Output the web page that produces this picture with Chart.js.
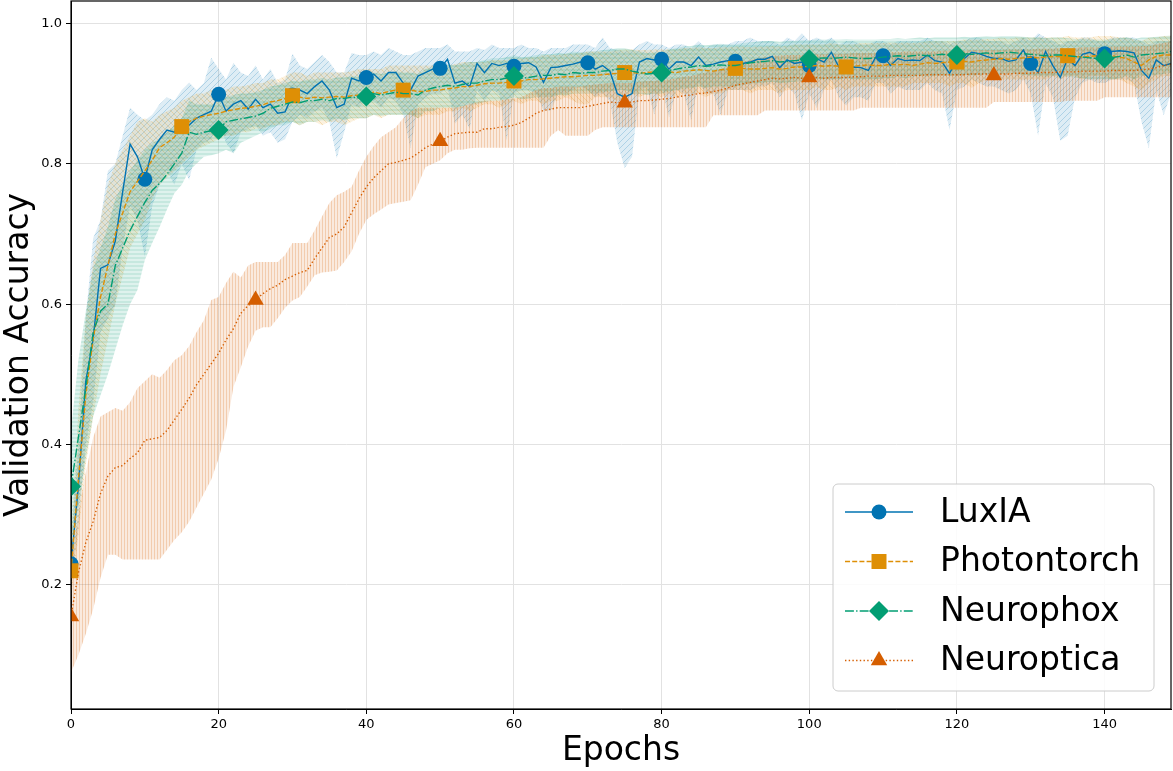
<!DOCTYPE html>
<html>
<head>
<meta charset="utf-8">
<title>Validation Accuracy</title>
<script src="https://cdn.jsdelivr.net/npm/chart.js@4.4.1/dist/chart.umd.min.js"></script>
<style>
  html, body { margin: 0; padding: 0; background: #fff; }
  #wrap { width: 1173px; height: 771px; }
</style>
</head>
<body>
<div id="wrap"><canvas id="chart" width="1173" height="771"></canvas></div>
<script>
// epoch index (x axis) and tick labels
const epochs = Array.from({ length: 150 }, (_, i) => i);
const xTicks = [0, 20, 40, 60, 80, 100, 120, 140];
const yTicks = [0.2, 0.4, 0.6, 0.8, 1.0];

// LuxIA
const luxMean = [
  0.23, 0.34, 0.49, 0.55, 0.651, 0.656, 0.69, 0.76, 0.828, 0.81,
  0.778, 0.82, 0.835, 0.848, 0.845, 0.86, 0.855, 0.865, 0.87, 0.875,
  0.899, 0.875, 0.885, 0.89, 0.878, 0.892, 0.88, 0.885, 0.872, 0.874,
  0.898, 0.905, 0.90, 0.91, 0.918, 0.905, 0.88, 0.885, 0.922, 0.918,
  0.923, 0.928, 0.918, 0.93, 0.93, 0.915, 0.905, 0.925, 0.93, 0.935,
  0.936, 0.949, 0.915, 0.918, 0.91, 0.943, 0.93, 0.943, 0.94, 0.943,
  0.939, 0.943, 0.944, 0.938, 0.916, 0.937, 0.938, 0.94, 0.942, 0.945,
  0.944, 0.935, 0.94, 0.932, 0.90, 0.895, 0.90, 0.945, 0.95, 0.948,
  0.949, 0.935, 0.945, 0.945, 0.94, 0.952, 0.94, 0.942, 0.945, 0.947,
  0.946, 0.943, 0.945, 0.949, 0.949, 0.953, 0.937, 0.948, 0.943, 0.945,
  0.94, 0.95, 0.945, 0.959, 0.938, 0.936, 0.938, 0.937, 0.933, 0.952,
  0.954, 0.94, 0.95, 0.947, 0.948, 0.947, 0.955, 0.947, 0.945, 0.929,
  0.948, 0.95, 0.959, 0.957, 0.953, 0.95, 0.95, 0.946, 0.948, 0.962,
  0.943, 0.93, 0.96, 0.94, 0.923, 0.95, 0.94, 0.956, 0.959, 0.953,
  0.957, 0.96, 0.961, 0.96, 0.958, 0.933, 0.922, 0.948, 0.94, 0.943
];
const luxLower = [
  0.20, 0.28, 0.40, 0.46, 0.56, 0.58, 0.60, 0.68, 0.74, 0.72,
  0.667, 0.74, 0.77, 0.79, 0.77, 0.80, 0.777, 0.82, 0.83, 0.835,
  0.86, 0.83, 0.815, 0.845, 0.85, 0.855, 0.84, 0.845, 0.83, 0.835,
  0.86, 0.87, 0.865, 0.875, 0.88, 0.86, 0.808, 0.845, 0.885, 0.88,
  0.89, 0.89, 0.88, 0.895, 0.89, 0.87, 0.822, 0.885, 0.895, 0.90,
  0.90, 0.91, 0.857, 0.87, 0.85, 0.905, 0.89, 0.905, 0.90, 0.833,
  0.90, 0.905, 0.905, 0.90, 0.876, 0.876, 0.90, 0.90, 0.905, 0.91,
  0.905, 0.895, 0.90, 0.89, 0.83, 0.794, 0.81, 0.905, 0.91, 0.87,
  0.91, 0.866, 0.905, 0.90, 0.862, 0.915, 0.90, 0.90, 0.87, 0.905,
  0.905, 0.905, 0.905, 0.91, 0.91, 0.915, 0.895, 0.91, 0.90, 0.862,
  0.90, 0.88, 0.905, 0.92, 0.895, 0.883, 0.895, 0.895, 0.89, 0.915,
  0.915, 0.90, 0.91, 0.905, 0.905, 0.905, 0.915, 0.905, 0.90, 0.848,
  0.905, 0.91, 0.92, 0.915, 0.91, 0.91, 0.905, 0.90, 0.905, 0.92,
  0.90, 0.84, 0.915, 0.895, 0.833, 0.84, 0.895, 0.915, 0.92, 0.915,
  0.915, 0.92, 0.92, 0.92, 0.915, 0.86, 0.822, 0.905, 0.869, 0.90
];
const luxUpper = [
  0.26, 0.40, 0.58, 0.694, 0.72, 0.79, 0.80, 0.84, 0.88, 0.87,
  0.862, 0.87, 0.885, 0.895, 0.89, 0.905, 0.916, 0.905, 0.915, 0.951,
  0.935, 0.92, 0.944, 0.93, 0.925, 0.94, 0.92, 0.935, 0.915, 0.92,
  0.957, 0.94, 0.935, 0.945, 0.955, 0.945, 0.93, 0.93, 0.958, 0.955,
  0.955, 0.96, 0.955, 0.965, 0.96, 0.955, 0.955, 0.96, 0.965, 0.965,
  0.965, 0.97, 0.96, 0.96, 0.96, 0.965, 0.962, 0.97, 0.965, 0.965,
  0.965, 0.97, 0.965, 0.965, 0.96, 0.965, 0.965, 0.965, 0.97, 0.97,
  0.97, 0.965, 0.98, 0.965, 0.962, 0.96, 0.962, 0.97, 0.975, 0.97,
  0.97, 0.965, 0.97, 0.97, 0.965, 0.975, 0.965, 0.97, 0.97, 0.97,
  0.975, 0.975, 0.98, 0.975, 0.975, 0.975, 0.97, 0.98, 0.975, 0.986,
  0.975, 0.98, 0.975, 0.98, 0.97, 0.975, 0.975, 0.97, 0.97, 0.975,
  0.975, 0.97, 0.975, 0.975, 0.975, 0.975, 0.98, 0.975, 0.975, 0.97,
  0.975, 0.975, 0.98, 0.98, 0.975, 0.975, 0.975, 0.97, 0.975, 0.98,
  0.975, 0.986, 0.98, 0.975, 0.97, 0.975, 0.975, 0.98, 0.98, 0.975,
  0.975, 0.98, 0.98, 0.98, 0.98, 0.975, 0.97, 0.975, 0.975, 0.975
];

// Photontorch
const ptMean = [
  0.22, 0.35, 0.47, 0.55, 0.61, 0.655, 0.70, 0.73, 0.76, 0.775,
  0.79, 0.805, 0.823, 0.83, 0.838, 0.853, 0.86, 0.865, 0.868, 0.87,
  0.872, 0.875, 0.877, 0.879, 0.88, 0.882, 0.884, 0.888, 0.89, 0.893,
  0.897, 0.895, 0.893, 0.895, 0.894, 0.895, 0.896, 0.895, 0.897, 0.898,
  0.90, 0.902, 0.90, 0.903, 0.905, 0.905, 0.905, 0.903, 0.903, 0.905,
  0.905, 0.907, 0.908, 0.91, 0.91, 0.912, 0.914, 0.915, 0.915, 0.916,
  0.918, 0.918, 0.92, 0.92, 0.921, 0.922, 0.923, 0.924, 0.924, 0.925,
  0.926, 0.926, 0.927, 0.928, 0.929, 0.93, 0.93, 0.929, 0.93, 0.931,
  0.93, 0.931, 0.93, 0.932, 0.933, 0.934, 0.933, 0.932, 0.934, 0.935,
  0.936, 0.936, 0.935, 0.935, 0.936, 0.937, 0.935, 0.936, 0.938, 0.938,
  0.939, 0.94, 0.939, 0.94, 0.939, 0.938, 0.939, 0.94, 0.941, 0.94,
  0.94, 0.942, 0.941, 0.942, 0.94, 0.942, 0.944, 0.943, 0.944, 0.945,
  0.945, 0.946, 0.945, 0.947, 0.948, 0.949, 0.95, 0.949, 0.95, 0.951,
  0.952, 0.951, 0.952, 0.953, 0.953, 0.954, 0.953, 0.952, 0.953, 0.954,
  0.955, 0.954, 0.952, 0.95, 0.945, 0.94, 0.948, 0.953, 0.955, 0.955
];
const ptLower = [
  0.18, 0.27, 0.37, 0.44, 0.50, 0.55, 0.60, 0.64, 0.68, 0.70,
  0.72, 0.75, 0.77, 0.78, 0.79, 0.80, 0.81, 0.82, 0.825, 0.83,
  0.835, 0.84, 0.84, 0.845, 0.845, 0.85, 0.85, 0.855, 0.855, 0.86,
  0.86, 0.855, 0.86, 0.86, 0.855, 0.86, 0.86, 0.855, 0.86, 0.865,
  0.865, 0.87, 0.865, 0.87, 0.87, 0.87, 0.87, 0.865, 0.87, 0.87,
  0.87, 0.875, 0.875, 0.88, 0.875, 0.88, 0.885, 0.885, 0.88, 0.885,
  0.89, 0.885, 0.89, 0.89, 0.885, 0.89, 0.89, 0.895, 0.89, 0.885,
  0.885, 0.895, 0.895, 0.895, 0.89, 0.895, 0.90, 0.895, 0.90, 0.90,
  0.895, 0.90, 0.895, 0.90, 0.90, 0.90, 0.895, 0.90, 0.90, 0.905,
  0.905, 0.905, 0.90, 0.905, 0.905, 0.905, 0.90, 0.905, 0.905, 0.905,
  0.905, 0.91, 0.905, 0.905, 0.91, 0.905, 0.91, 0.91, 0.91, 0.91,
  0.91, 0.91, 0.91, 0.91, 0.915, 0.915, 0.915, 0.915, 0.915, 0.91,
  0.915, 0.915, 0.908, 0.915, 0.92, 0.92, 0.92, 0.92, 0.92, 0.92,
  0.92, 0.92, 0.92, 0.925, 0.92, 0.925, 0.925, 0.92, 0.925, 0.925,
  0.925, 0.92, 0.92, 0.915, 0.91, 0.905, 0.915, 0.92, 0.925, 0.925
];
const ptUpper = [
  0.26, 0.45, 0.58, 0.66, 0.72, 0.77, 0.80, 0.82, 0.84, 0.86,
  0.865, 0.86, 0.87, 0.875, 0.88, 0.89, 0.895, 0.90, 0.90, 0.905,
  0.905, 0.905, 0.91, 0.91, 0.912, 0.915, 0.915, 0.92, 0.92, 0.925,
  0.93, 0.93, 0.925, 0.93, 0.93, 0.93, 0.93, 0.93, 0.932, 0.935,
  0.935, 0.935, 0.935, 0.94, 0.94, 0.94, 0.94, 0.94, 0.94, 0.94,
  0.94, 0.94, 0.942, 0.945, 0.945, 0.945, 0.945, 0.948, 0.948, 0.948,
  0.95, 0.95, 0.952, 0.952, 0.955, 0.955, 0.955, 0.957, 0.957, 0.958,
  0.96, 0.96, 0.96, 0.96, 0.962, 0.963, 0.963, 0.962, 0.962, 0.963,
  0.963, 0.963, 0.963, 0.965, 0.965, 0.966, 0.965, 0.965, 0.966, 0.966,
  0.967, 0.967, 0.966, 0.967, 0.967, 0.968, 0.967, 0.968, 0.97, 0.97,
  0.97, 0.97, 0.97, 0.972, 0.97, 0.97, 0.97, 0.972, 0.972, 0.972,
  0.972, 0.973, 0.972, 0.973, 0.972, 0.973, 0.975, 0.975, 0.975, 0.975,
  0.975, 0.977, 0.977, 0.977, 0.978, 0.978, 0.98, 0.978, 0.98, 0.98,
  0.98, 0.98, 0.98, 0.98, 0.98, 0.982, 0.98, 0.98, 0.98, 0.982,
  0.982, 0.982, 0.98, 0.98, 0.978, 0.975, 0.98, 0.98, 0.982, 0.982
];

// Neurophox
const nxMean = [
  0.34, 0.41, 0.48, 0.56, 0.59, 0.60, 0.655, 0.68, 0.705, 0.725,
  0.745, 0.762, 0.772, 0.785, 0.80, 0.815, 0.845, 0.842, 0.845, 0.847,
  0.848, 0.86, 0.862, 0.864, 0.866, 0.868, 0.872, 0.879, 0.882, 0.885,
  0.888, 0.887, 0.89, 0.89, 0.892, 0.89, 0.893, 0.893, 0.895, 0.894,
  0.896, 0.90, 0.898, 0.90, 0.902, 0.90, 0.90, 0.898, 0.905, 0.908,
  0.91, 0.912, 0.91, 0.913, 0.915, 0.915, 0.918, 0.92, 0.92, 0.922,
  0.925, 0.922, 0.923, 0.925, 0.926, 0.926, 0.928, 0.927, 0.93, 0.929,
  0.93, 0.93, 0.932, 0.933, 0.935, 0.935, 0.932, 0.93, 0.928, 0.929,
  0.93, 0.933, 0.935, 0.937, 0.938, 0.94, 0.939, 0.94, 0.941, 0.94,
  0.94, 0.942, 0.944, 0.945, 0.946, 0.947, 0.945, 0.946, 0.947, 0.948,
  0.949, 0.95, 0.951, 0.95, 0.951, 0.952, 0.951, 0.95, 0.95, 0.951,
  0.952, 0.953, 0.954, 0.953, 0.954, 0.955, 0.954, 0.955, 0.956, 0.955,
  0.955, 0.957, 0.956, 0.957, 0.958, 0.957, 0.958, 0.959, 0.958, 0.957,
  0.956, 0.955, 0.954, 0.955, 0.955, 0.954, 0.953, 0.952, 0.951, 0.95,
  0.95, 0.951, 0.953, 0.955, 0.952, 0.955, 0.956, 0.957, 0.958, 0.96
];
const nxLower = [
  0.26, 0.31, 0.38, 0.44, 0.47, 0.50, 0.535, 0.57, 0.60, 0.62,
  0.663, 0.687, 0.71, 0.735, 0.758, 0.77, 0.79, 0.80, 0.81, 0.812,
  0.815, 0.82, 0.815, 0.83, 0.835, 0.84, 0.845, 0.85, 0.855, 0.855,
  0.86, 0.855, 0.86, 0.86, 0.862, 0.86, 0.865, 0.862, 0.865, 0.865,
  0.865, 0.87, 0.868, 0.87, 0.87, 0.87, 0.87, 0.865, 0.875, 0.875,
  0.88, 0.88, 0.88, 0.882, 0.885, 0.885, 0.888, 0.89, 0.89, 0.892,
  0.895, 0.892, 0.893, 0.895, 0.895, 0.895, 0.898, 0.897, 0.90, 0.90,
  0.90, 0.90, 0.902, 0.903, 0.905, 0.905, 0.90, 0.90, 0.898, 0.90,
  0.90, 0.903, 0.905, 0.907, 0.908, 0.91, 0.908, 0.91, 0.91, 0.91,
  0.91, 0.912, 0.914, 0.915, 0.916, 0.917, 0.915, 0.916, 0.917, 0.918,
  0.919, 0.92, 0.92, 0.92, 0.92, 0.922, 0.92, 0.92, 0.92, 0.92,
  0.922, 0.922, 0.924, 0.922, 0.924, 0.925, 0.924, 0.925, 0.926, 0.925,
  0.925, 0.927, 0.926, 0.927, 0.928, 0.927, 0.928, 0.929, 0.928, 0.927,
  0.926, 0.925, 0.924, 0.925, 0.925, 0.924, 0.923, 0.922, 0.92, 0.92,
  0.92, 0.92, 0.922, 0.925, 0.92, 0.925, 0.925, 0.927, 0.928, 0.93
];
const nxUpper = [
  0.42, 0.52, 0.59, 0.65, 0.68, 0.71, 0.75, 0.77, 0.79, 0.805,
  0.82, 0.83, 0.835, 0.845, 0.855, 0.865, 0.89, 0.885, 0.885, 0.885,
  0.888, 0.895, 0.898, 0.90, 0.90, 0.902, 0.905, 0.91, 0.912, 0.915,
  0.918, 0.917, 0.92, 0.92, 0.922, 0.92, 0.923, 0.923, 0.925, 0.924,
  0.926, 0.93, 0.928, 0.93, 0.932, 0.93, 0.93, 0.928, 0.935, 0.938,
  0.94, 0.942, 0.94, 0.943, 0.945, 0.945, 0.948, 0.95, 0.95, 0.952,
  0.955, 0.952, 0.953, 0.955, 0.956, 0.956, 0.958, 0.957, 0.96, 0.959,
  0.96, 0.96, 0.962, 0.963, 0.965, 0.965, 0.962, 0.96, 0.958, 0.959,
  0.96, 0.963, 0.965, 0.967, 0.968, 0.97, 0.969, 0.97, 0.971, 0.97,
  0.97, 0.972, 0.973, 0.974, 0.975, 0.975, 0.974, 0.975, 0.975, 0.976,
  0.976, 0.977, 0.977, 0.977, 0.977, 0.978, 0.977, 0.977, 0.977, 0.977,
  0.978, 0.978, 0.979, 0.978, 0.979, 0.98, 0.979, 0.98, 0.98, 0.98,
  0.98, 0.981, 0.98, 0.981, 0.982, 0.981, 0.982, 0.982, 0.982, 0.981,
  0.98, 0.98, 0.979, 0.98, 0.98, 0.979, 0.978, 0.978, 0.977, 0.977,
  0.977, 0.978, 0.979, 0.98, 0.978, 0.98, 0.98, 0.981, 0.982, 0.983
];

// Neuroptica
const noMean = [
  0.155, 0.217, 0.26, 0.29, 0.33, 0.355, 0.367, 0.37, 0.38, 0.388,
  0.406, 0.408, 0.41, 0.42, 0.435, 0.45, 0.466, 0.485, 0.50, 0.515,
  0.53, 0.549, 0.565, 0.587, 0.598, 0.606, 0.615, 0.622, 0.627, 0.635,
  0.64, 0.645, 0.648, 0.665, 0.68, 0.695, 0.70, 0.71, 0.73, 0.75,
  0.767, 0.78, 0.79, 0.80, 0.802, 0.805, 0.808, 0.815, 0.823, 0.828,
  0.832, 0.838, 0.843, 0.844, 0.845, 0.845, 0.85, 0.85, 0.852, 0.853,
  0.855, 0.859, 0.865, 0.872, 0.876, 0.878, 0.88, 0.88, 0.88, 0.88,
  0.882, 0.884, 0.886, 0.888, 0.887, 0.887, 0.888, 0.89, 0.89, 0.891,
  0.892, 0.893, 0.895, 0.897, 0.898, 0.90, 0.901, 0.903, 0.905, 0.908,
  0.912, 0.914, 0.916, 0.918, 0.92, 0.922, 0.921, 0.922, 0.923, 0.922,
  0.923, 0.923, 0.922, 0.923, 0.923, 0.923, 0.924, 0.924, 0.925, 0.925,
  0.925, 0.926, 0.926, 0.926, 0.926, 0.926, 0.927, 0.927, 0.927, 0.927,
  0.927, 0.927, 0.928, 0.928, 0.928, 0.926, 0.928, 0.928, 0.929, 0.929,
  0.929, 0.93, 0.93, 0.93, 0.931, 0.931, 0.931, 0.932, 0.932, 0.932,
  0.932, 0.933, 0.933, 0.933, 0.933, 0.934, 0.935, 0.937, 0.94, 0.942
];
const noLower = [
  0.075, 0.10, 0.13, 0.165, 0.21, 0.243, 0.243, 0.236, 0.236, 0.236,
  0.236, 0.236, 0.236, 0.25, 0.264, 0.275, 0.29, 0.31, 0.33, 0.35,
  0.38, 0.42, 0.482, 0.51, 0.54, 0.562, 0.567, 0.567, 0.58, 0.595,
  0.605, 0.61, 0.625, 0.641, 0.645, 0.646, 0.648, 0.66, 0.675, 0.70,
  0.72, 0.728, 0.735, 0.742, 0.744, 0.746, 0.748, 0.77, 0.795, 0.80,
  0.805, 0.815, 0.82, 0.82, 0.822, 0.823, 0.823, 0.823, 0.823, 0.823,
  0.823, 0.823, 0.823, 0.823, 0.823, 0.84, 0.848, 0.84, 0.84, 0.84,
  0.84, 0.848, 0.852, 0.852, 0.852, 0.852, 0.852, 0.852, 0.852, 0.852,
  0.852, 0.852, 0.852, 0.852, 0.852, 0.852, 0.852, 0.869, 0.869, 0.869,
  0.869, 0.869, 0.869, 0.869, 0.876, 0.876, 0.876, 0.876, 0.876, 0.876,
  0.876, 0.876, 0.876, 0.876, 0.876, 0.876, 0.876, 0.88, 0.88, 0.88,
  0.88, 0.88, 0.88, 0.88, 0.88, 0.88, 0.88, 0.88, 0.88, 0.88,
  0.88, 0.88, 0.88, 0.88, 0.88, 0.888, 0.888, 0.888, 0.888, 0.888,
  0.888, 0.888, 0.888, 0.888, 0.888, 0.89, 0.89, 0.89, 0.89, 0.89,
  0.895, 0.895, 0.895, 0.895, 0.895, 0.895, 0.895, 0.895, 0.895, 0.895
];
const noUpper = [
  0.23, 0.30, 0.36, 0.41, 0.44, 0.446, 0.452, 0.448, 0.46, 0.48,
  0.49, 0.50, 0.495, 0.506, 0.52, 0.527, 0.54, 0.56, 0.577, 0.606,
  0.61, 0.63, 0.646, 0.638, 0.655, 0.66, 0.66, 0.66, 0.66, 0.67,
  0.687, 0.687, 0.687, 0.705, 0.725, 0.744, 0.755, 0.76, 0.767, 0.79,
  0.81, 0.825, 0.838, 0.845, 0.852, 0.865, 0.875, 0.88, 0.88, 0.88,
  0.88, 0.88, 0.88, 0.882, 0.885, 0.888, 0.89, 0.89, 0.89, 0.892,
  0.893, 0.895, 0.90, 0.905, 0.908, 0.908, 0.91, 0.91, 0.91, 0.91,
  0.912, 0.913, 0.914, 0.915, 0.915, 0.915, 0.915, 0.917, 0.918, 0.918,
  0.919, 0.92, 0.922, 0.924, 0.925, 0.928, 0.93, 0.932, 0.935, 0.938,
  0.942, 0.945, 0.948, 0.95, 0.952, 0.954, 0.954, 0.955, 0.955, 0.955,
  0.956, 0.956, 0.956, 0.957, 0.957, 0.957, 0.958, 0.958, 0.958, 0.958,
  0.959, 0.959, 0.959, 0.96, 0.96, 0.96, 0.96, 0.96, 0.961, 0.961,
  0.961, 0.961, 0.962, 0.962, 0.962, 0.962, 0.962, 0.963, 0.963, 0.963,
  0.963, 0.964, 0.964, 0.964, 0.965, 0.965, 0.965, 0.966, 0.966, 0.966,
  0.966, 0.967, 0.967, 0.967, 0.967, 0.968, 0.968, 0.97, 0.972, 0.975
];

// epochs that carry a marker
const luxMarks = [0, 10, 20, 30, 40, 50, 60, 70, 80, 90, 100, 110, 120, 130, 140];
const ptMarks = [0, 15, 30, 45, 60, 75, 90, 105, 120, 135];
const nxMarks = [0, 20, 40, 60, 80, 100, 120, 140];
const noMarks = [0, 25, 50, 75, 100, 125];

const canvas = document.getElementById('chart');
const ctx = canvas.getContext('2d');

// hatched, semi transparent fill for the spread bands
function hatch(rgb, kind) {
  const s = kind === 'vert' ? 3 : kind === 'horiz' ? 4 : 6;
  const tile = document.createElement('canvas');
  tile.width = s;
  tile.height = s;
  const g = tile.getContext('2d');
  g.fillStyle = `rgba(${rgb},0.13)`;
  g.fillRect(0, 0, s, s);
  g.strokeStyle = `rgba(${rgb},0.22)`;
  g.lineWidth = 1;
  g.beginPath();
  if (kind === 'diag') {
    g.moveTo(0, s); g.lineTo(s, 0);
    g.moveTo(-1, 1); g.lineTo(1, -1);
    g.moveTo(s - 1, s + 1); g.lineTo(s + 1, s - 1);
  } else if (kind === 'back') {
    g.moveTo(0, 0); g.lineTo(s, s);
    g.moveTo(s - 1, -1); g.lineTo(s + 1, 1);
    g.moveTo(-1, s - 1); g.lineTo(1, s + 1);
  } else if (kind === 'horiz') {
    g.moveTo(0, s / 2); g.lineTo(s, s / 2);
  } else {
    g.moveTo(s / 2, 0); g.lineTo(s / 2, s);
  }
  g.stroke();
  return ctx.createPattern(tile, 'repeat');
}

const series = [
  { name: 'LuxIA', color: '#0173B2', rgb: '1,115,178', hatch: 'diag', mean: luxMean, lower: luxLower, upper: luxUpper, marks: luxMarks, style: 'circle', radius: 7.5, dash: [] },
  { name: 'Photontorch', color: '#DE8F05', rgb: '222,143,5', hatch: 'back', mean: ptMean, lower: ptLower, upper: ptUpper, marks: ptMarks, style: 'rect', radius: 10.6, dash: [5, 2.2] },
  { name: 'Neurophox', color: '#029E73', rgb: '2,158,115', hatch: 'horiz', mean: nxMean, lower: nxLower, upper: nxUpper, marks: nxMarks, style: 'rectRot', radius: 10, dash: [8.9, 2.2, 1.4, 2.2] },
  { name: 'Neuroptica', color: '#D55E00', rgb: '213,94,0', hatch: 'vert', mean: noMean, lower: noLower, upper: noUpper, marks: noMarks, style: 'triangle', radius: 9.5, dash: [1.4, 2.3] }
];

function points(values) {
  return values.map((v, i) => ({ x: epochs[i], y: v }));
}

const datasets = [];
// bands first (upper fills down to the next dataset, the lower bound)
series.forEach((s, k) => {
  datasets.push({
    label: s.name + ' upper', data: points(s.upper), borderWidth: 0, pointRadius: 0,
    fill: '+1', backgroundColor: hatch(s.rgb, s.hatch), order: 20 - k
  });
  datasets.push({
    label: s.name + ' lower', data: points(s.lower), borderWidth: 0, pointRadius: 0,
    fill: false, order: 20 - k
  });
});
series.forEach((s, k) => {
  datasets.push({
    label: s.name, data: points(s.mean), borderColor: s.color, backgroundColor: s.color,
    borderWidth: 1.4, borderDash: s.dash, fill: false, tension: 0,
    pointStyle: s.style, pointBackgroundColor: s.color, pointBorderWidth: 0,
    pointRadius: c => s.marks.includes(c.dataIndex) ? s.radius : 0,
    order: 10 - k
  });
});

function drawMarker(c, style, x, y, r, color) {
  c.fillStyle = color;
  c.beginPath();
  if (style === 'circle') {
    c.arc(x, y, r, 0, Math.PI * 2);
  } else if (style === 'rect') {
    const h = r * Math.SQRT1_2;
    c.rect(x - h, y - h, 2 * h, 2 * h);
  } else if (style === 'rectRot') {
    c.moveTo(x, y - r); c.lineTo(x + r, y); c.lineTo(x, y + r); c.lineTo(x - r, y);
  } else {
    c.moveTo(x, y - r); c.lineTo(x + r * 0.866, y + r * 0.5); c.lineTo(x - r * 0.866, y + r * 0.5);
  }
  c.closePath();
  c.fill();
}

// frame on all four sides plus the legend box
const framePlugin = {
  id: 'frame',
  afterDatasetsDraw(chart) {
    const { left, right, top, bottom } = chart.chartArea;
    const c = chart.ctx;
    c.save();
    c.strokeStyle = '#000';
    c.lineWidth = 1.2;
    c.strokeRect(left, top, right - left, bottom - top);
    c.restore();
  },
  afterDraw(chart) {
    const c = chart.ctx;
    const box = { x: 833, y: 484, w: 321, h: 207 };
    c.save();
    c.beginPath();
    c.roundRect(box.x, box.y, box.w, box.h, 5);
    c.fillStyle = 'rgba(255,255,255,0.85)';
    c.fill();
    c.strokeStyle = '#cccccc';
    c.lineWidth = 1;
    c.stroke();
    series.forEach((s, i) => {
      const y = 512 + i * 49.5;
      c.strokeStyle = s.color;
      c.lineWidth = 1.4;
      c.setLineDash(s.dash);
      c.beginPath();
      c.moveTo(845, y);
      c.lineTo(913, y);
      c.stroke();
      c.setLineDash([]);
      drawMarker(c, s.style, 879, y, s.radius, s.color);
      c.fillStyle = '#000';
      c.font = '33px "DejaVu Sans"';
      c.textBaseline = 'middle';
      c.fillText(s.name, 940, y + 1);
    });
    c.restore();
  }
};

const tickFont = { family: 'DejaVu Sans', size: 13 };
const titleFont = { family: 'DejaVu Sans', size: 33 };

// keep the plot box fixed: no extra room for overflowing tick labels
function noPad(s) {
  s.paddingTop = 0;
  s.paddingBottom = 0;
  s.paddingLeft = 0;
  s.paddingRight = 0;
}

new Chart(ctx, {
  type: 'line',
  data: { datasets },
  options: {
    responsive: false,
    animation: false,
    events: [],
    layout: { autoPadding: false, padding: { top: 1, right: 2, left: 0, bottom: 0 } },
    plugins: {
      legend: { display: false },
      tooltip: { enabled: false },
      filler: { propagate: false }
    },
    scales: {
      x: {
        type: 'linear', min: 0, max: 149,
        afterBuildTicks: s => { s.ticks = xTicks.map(v => ({ value: v })); },
        afterFit: s => { s.height = 62; noPad(s); },
        grid: { color: '#e2e2e2', lineWidth: 1, tickLength: 5, tickColor: '#000' },
        border: { color: '#000', width: 1 },
        ticks: { color: '#000', font: tickFont, padding: 3, maxRotation: 0, autoSkip: false },
        title: { display: true, text: 'Epochs', color: '#000', font: titleFont, padding: { top: 0, bottom: 0 } }
      },
      y: {
        type: 'linear', min: 0.023, max: 1.032,
        afterBuildTicks: s => { s.ticks = yTicks.map(v => ({ value: v })); },
        afterFit: s => { s.width = 71; noPad(s); },
        grid: { color: '#e2e2e2', lineWidth: 1, tickLength: 5, tickColor: '#000' },
        border: { color: '#000', width: 1 },
        ticks: { color: '#000', font: tickFont, padding: 4, callback: v => v.toFixed(1) },
        title: { display: true, text: 'Validation Accuracy', color: '#000', font: titleFont, padding: { top: 0, bottom: 0 } }
      }
    }
  },
  plugins: [framePlugin]
});
</script>
</body>
</html>
